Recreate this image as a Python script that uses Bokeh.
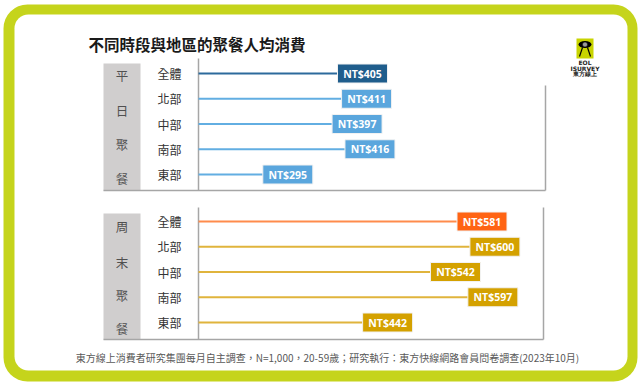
from bokeh.plotting import figure
from bokeh.models import Range1d
from bokeh.core.properties import value
from bokeh.embed import file_html
from bokeh.resources import INLINE

# ---------------- data ----------------
title = "不同時段與地區的聚餐人均消費"
regions = ["全體", "北部", "中部", "南部", "東部"]
weekday_values = [405, 411, 397, 416, 295]
weekend_values = [581, 600, 542, 597, 442]
panel_names = ["平日聚餐", "周末聚餐"]
footer = "東方線上消費者研究集團每月自主調查，N=1,000，20-59歲；研究執行：東方快線網路會員問卷調查(2023年10月)"
logo_lines = ["EOL", "ISURVEY", "東方線上"]

# ---------------- style ----------------
LIME = "#c5d41c"
GRAY_BOX = "#d0cece"
AXIS = "#a6a6a6"
CJK = "Noto Sans CJK TC"
NUM_FONT = "Open Sans"

wk_box = ["#1f5d8c"] + ["#5aa6dd"] * 4
wk_line = ["#2c6a9c"] + ["#62aee2"] * 4
we_box = ["#ff6414"] + ["#d4a100"] * 4
we_line = ["#ff8c4c"] + ["#e0b43c"] * 4

# value scale: pixel = PX0 + SCALE * value ; axis sits at pixel 198
PX0, SCALE, W, H = 87.0, 0.679, 640, 384
AXIS_PX = 198
AXIS_VAL = (AXIS_PX - PX0) / SCALE
ROW_STEP = 25.25
WK_FIRST, WE_FIRST = 73, 221

p = figure(width=W, height=H, x_range=Range1d(0, W), y_range=Range1d(H, 0),
           output_backend="svg", toolbar_location=None, min_border=0,
           x_axis_type=None, y_axis_type=None, outline_line_color=None,
           background_fill_color="white", border_fill_color="white")
p.grid.visible = False
p.extra_x_ranges = {"val": Range1d(-PX0 / SCALE, (W - PX0) / SCALE)}
p.extra_y_ranges = {
    "wk": Range1d((H - WK_FIRST) / ROW_STEP, -WK_FIRST / ROW_STEP),
    "we": Range1d((H - WE_FIRST) / ROW_STEP, -WE_FIRST / ROW_STEP),
}

# frame border
p.quad(left=3, right=637, top=4, bottom=381, fill_color=LIME, line_color=None, border_radius=24)
p.quad(left=14, right=627, top=14, bottom=370, fill_color="white", line_color=None, border_radius=14)

# title
p.text(x=[88], y=[43], text=[title], text_font=value(CJK), text_font_size="15.5px",
       text_font_style="bold", text_color="#1a1a1a", text_align="left", text_baseline="middle")

# logo
p.quad(left=576, right=593, top=38, bottom=58, fill_color="#c8d400", line_color=None)
p.ellipse(x=[584.5], y=[44], width=13, height=7, fill_color="black", line_color=None)
p.scatter(x=[584.5], y=[44], size=5, fill_color="#9a9a9a", line_color="black", line_width=0.5)
p.segment(x0=[582, 587], y0=[47, 47], x1=[579, 590], y1=[56, 56], line_color="black", line_width=1.2)
p.text(x=[584.5] * 3, y=[62, 67.5, 73], text=logo_lines, text_font=value("DejaVu Sans"),
       text_font_size="6px", text_font_style="bold", text_color="#222",
       text_align="center", text_baseline="middle")

# panels
panels = [
    ("wk", weekday_values, wk_box, wk_line, 63, 190, 58, 85, 545, [75, 110, 144, 178]),
    ("we", weekend_values, we_box, we_line, 213, 339, 207, 207, 543, [226, 262, 295, 328]),
]
for k, (rn, vals, boxc, linec, gtop, gbot, ax_top, r_top, r_x, char_y) in enumerate(panels):
    # gray side box with vertical panel name
    p.quad(left=103, right=140, top=gtop, bottom=gbot, fill_color=GRAY_BOX, line_color=None)
    p.text(x=[121.5] * len(panel_names[k]), y=char_y, text=list(panel_names[k]),
           text_font=value(CJK), text_font_size="12.5px", text_color="#505050",
           text_align="center", text_baseline="middle")
    # axis lines
    p.segment(x0=[AXIS_PX, 103, r_x], y0=[ax_top, gbot, r_top],
              x1=[AXIS_PX, r_x, r_x], y1=[gbot, gbot, gbot],
              line_color=AXIS, line_width=1.5)
    idx = list(range(len(regions)))
    # category labels
    p.text(x=[169] * len(regions), y=idx, text=regions, y_range_name=rn,
           text_font=value(CJK), text_font_size="12px", text_color="#333333",
           text_align="center", text_baseline="middle")
    # lollipop lines
    p.segment(x0=[AXIS_VAL] * len(vals), y0=idx, x1=vals, y1=idx,
              x_range_name="val", y_range_name=rn, line_color=linec, line_width=2)
    # value boxes
    p.rect(x=vals, y=idx, width=50, height=19, width_units="screen", height_units="screen",
           x_range_name="val", y_range_name=rn, fill_color=boxc, line_color="#f2f2f2", line_width=1)
    p.text(x=vals, y=idx, text=[f"NT${v}" for v in vals], x_range_name="val", y_range_name=rn,
           text_font=value(NUM_FONT), text_font_size="10.5px", text_font_style="bold",
           text_color="white", text_align="center", text_baseline="middle")

# footer
p.text(x=[327], y=[357], text=[footer], text_font=value(CJK), text_font_size="10px",
       text_color="#595959", text_align="center", text_baseline="middle")

open("out.html", "w").write(file_html(p, INLINE))
